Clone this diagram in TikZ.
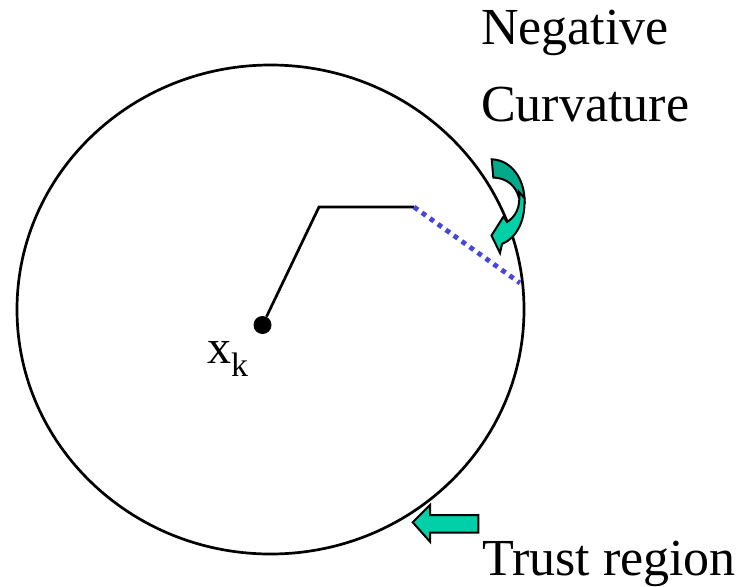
\documentclass[tikz,border=0pt]{standalone}
\usepackage{fontspec}
\setmainfont{Liberation Serif}
\begin{document}
\begin{tikzpicture}[x=1pt,y=-1pt,
  lbl/.style={inner sep=0pt, anchor=base west, font=\fontsize{52}{52}\selectfont},
  ring/.style={draw=black, line width=2.7pt},
  stepline/.style={draw=black, line width=2.7pt, line join=miter},
  bluedot/.style={draw={rgb,255:red,70;green,70;blue,220}, line width=4.8pt, dash pattern=on 4.8pt off 5pt},
  lightfill/.style={fill={rgb,255:red,0;green,208;blue,168}, draw=black, line width=2pt, line join=miter},
  darkfill/.style={fill={rgb,255:red,0;green,170;blue,138}, draw=black, line width=2pt, line join=miter}]
\useasboundingbox (0,0) rectangle (751,586);
% trust region circle
\draw[ring] (270.5,309.5) ellipse [x radius=253.5pt, y radius=244.5pt];
% path
\node[circle, fill=black, inner sep=0pt, minimum size=18pt] (dot) at (262.5,325) {};
\coordinate (c1) at (319,207);
\coordinate (c2) at (414,207);
\coordinate (c3) at (520,283);
\draw[stepline] (dot) -- (c1) -- (c2);
\draw[bluedot] (c2) -- (c3);
% label x_k
\node[inner sep=0pt, anchor=base west, font=\fontsize{48}{48}\selectfont] (xk) at (207,363)
  {x\raisebox{-13pt}{\fontsize{34}{34}\selectfont k}};
% curved arrow (negative curvature)
\path[darkfill] (491.7,159.3) .. controls (512,160) and (525,180) .. (524.5,202)
   -- (519,198) .. controls (516,186) and (507,178) .. (493.3,177.5) -- cycle;
\path[lightfill] (519,192) .. controls (521,208) and (515,217) .. (507,222)
   -- (503.5,216.5) -- (491.5,235.5) -- (500,253) -- (502,244)
   .. controls (516,238) and (525.5,222) .. (524.5,198) -- cycle;
% trust region arrow
\path[lightfill] (412.7,522.3) -- (430,505) -- (430,515) -- (478.3,515) -- (478.3,532.7)
   -- (430,532.7) -- (430,541.7) -- cycle;
% labels
\node[lbl] (neg) at (481,45) {Negative};
\node[lbl] (curv) at (481,121.7) {Curvature};
\node[lbl] (trust) at (482,575) {Trust region};
\end{tikzpicture}
\end{document}
